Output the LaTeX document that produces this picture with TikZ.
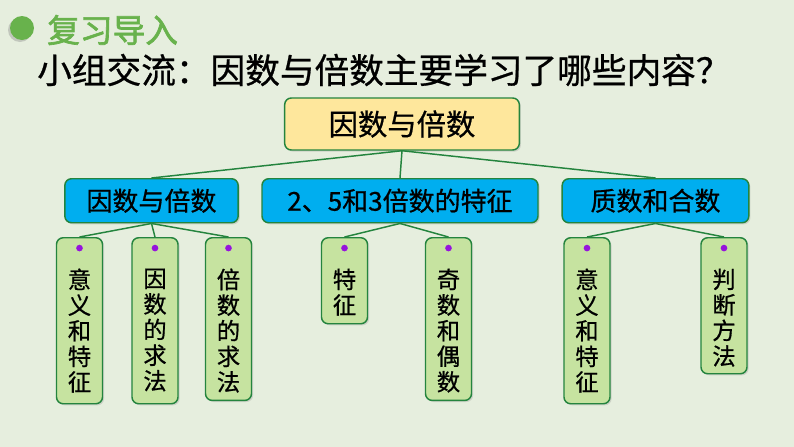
\documentclass[tikz,border=0pt]{standalone}
\usepackage{fontspec}
\newfontfamily\cjk{Noto Sans CJK SC}[FakeBold=0.7]
\newfontfamily\cjkhead{Noto Sans CJK SC}[FakeBold=2]
\usetikzlibrary{shadows}
\definecolor{bgsage}{RGB}{230,238,222}
\definecolor{bordergreen}{RGB}{36,132,62}
\definecolor{topyellow}{RGB}{254,231,156}
\definecolor{midcyan}{RGB}{0,174,239}
\definecolor{leafgreen}{RGB}{198,227,160}
\definecolor{titlegreen}{RGB}{104,178,76}
\definecolor{dotpurple}{RGB}{150,20,220}

\begin{document}
\begin{tikzpicture}[x=0.75pt,y=-0.75pt]
  \def\my{178}
  \def\ly{237}

\tikzstyle{box}=[draw=bordergreen,line width=1.1pt,rounded corners=5pt,inner sep=0pt,
  drop shadow={opacity=0.25,shadow xshift=1.2pt,shadow yshift=-1.2pt}]
\tikzstyle{topbox}=[box,fill=topyellow,minimum width=176pt,minimum height=39pt,
  font=\cjk\fontsize{22}{24}\selectfont]
\tikzstyle{midbox}=[box,fill=midcyan,anchor=north,minimum height=33pt,
  font=\cjk\fontsize{19.5}{22}\selectfont]
\tikzstyle{leaf}=[box,fill=leafgreen,anchor=north,minimum width=34.5pt]
\tikzstyle{leaftxt}=[anchor=north,align=center,inner sep=0pt,
  font=\cjk\fontsize{17.5}{19.2}\selectfont]
\tikzstyle{dot}=[circle,fill=dotpurple,inner sep=0pt,minimum size=5pt]
\tikzstyle{link}=[draw=bordergreen,line width=1.1pt]

% background
\fill[bgsage] (0,0) rectangle (794,447);

% heading
\node[circle,fill=titlegreen,minimum size=18pt,inner sep=0pt,
  drop shadow={opacity=0.35,shadow xshift=-1.5pt,shadow yshift=-1.5pt}] (B) at (22,28) {};
\node[anchor=west,inner sep=0pt,text=titlegreen,font=\cjkhead\fontsize{24.5}{27}\selectfont] (H) at (47,30) {复习导入};
\node[anchor=west,inner sep=0pt,font=\cjk\fontsize{26}{29}\selectfont] (Q) at (37,70) {小组交流：因数与倍数主要学习了哪些内容？};

% top
\node[topbox] (top) at (402,124) {因数与倍数};

% middle row
\node[midbox,minimum width=130pt] (M1) at (151.5,\my) {因数与倍数};
\node[midbox,minimum width=207pt] (M2) at (400,\my) {2、5和3倍数的特征};
\node[midbox,minimum width=140pt] (M3) at (655.5,\my) {质数和合数};
\draw[link] (top.south) -- (M1.north);
\draw[link] (top.south) -- (M2.north);
\draw[link] (top.south) -- (M3.north);

% leaves
\node[leaf,minimum height=124.5pt] (L1) at (79.5,\ly) {};
\node[leaf,minimum height=124.5pt] (L2) at (155,\ly) {};
\node[leaf,minimum height=122pt] (L3) at (228.5,\ly) {};
\node[leaf,minimum height=64.5pt] (L4) at (344.5,\ly) {};
\node[leaf,minimum height=122pt] (L5) at (448.5,\ly) {};
\node[leaf,minimum height=124.5pt] (L6) at (587,\ly) {};
\node[leaf,minimum height=102pt] (L7) at (724,\ly) {};

\foreach \i in {1,...,7}{
  \node[dot] (D\i) at ([yshift=-8.3pt]L\i.north) {};
}

\node[leaftxt] (T1) at ([yshift=-23.5pt]L1.north) {意\\义\\和\\特\\征};
\node[leaftxt] (T2) at ([yshift=-23.5pt]L2.north) {因\\数\\的\\求\\法};
\node[leaftxt] (T3) at ([yshift=-23.5pt]L3.north) {倍\\数\\的\\求\\法};
\node[leaftxt] (T4) at ([yshift=-23.5pt]L4.north) {特\\征};
\node[leaftxt] (T5) at ([yshift=-23.5pt]L5.north) {奇\\数\\和\\偶\\数};
\node[leaftxt] (T6) at ([yshift=-23.5pt]L6.north) {意\\义\\和\\特\\征};
\node[leaftxt] (T7) at ([yshift=-23.5pt]L7.north) {判\\断\\方\\法};

\draw[link] (M1.south) -- (L1.north);
\draw[link] (M1.south) -- (L2.north);
\draw[link] (M1.south) -- (L3.north);
\draw[link] (M2.south) -- (L4.north);
\draw[link] (M2.south) -- (L5.north);
\draw[link] (M3.south) -- (L6.north);
\draw[link] (M3.south) -- (L7.north);
\end{tikzpicture}
\end{document}
